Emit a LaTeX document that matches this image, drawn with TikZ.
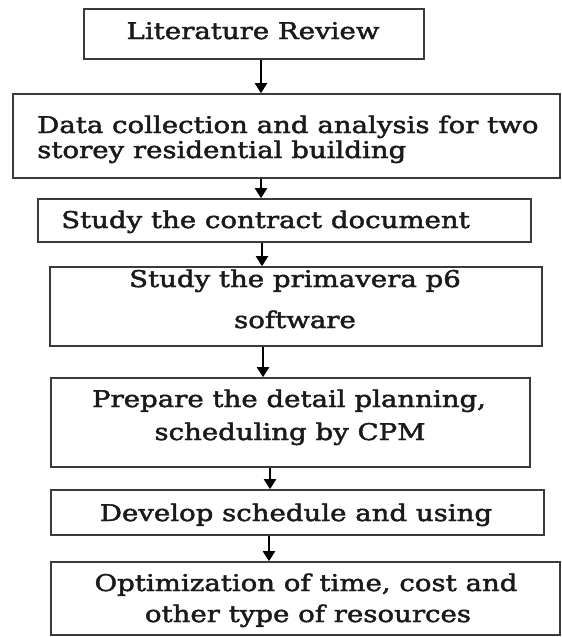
\documentclass[tikz,border=0pt]{standalone}
\usepackage{fontspec}
\setmainfont{DejaVu Serif}[FakeStretch=1.2, FakeBold=2]
\usetikzlibrary{arrows.meta}
\definecolor{boxgray}{HTML}{3A3A3A}
\definecolor{inkcol}{HTML}{1A1A1A}
\tikzset{
  box/.style={draw=boxgray, line width=1.6pt, inner sep=0pt, fill=white},
  txt/.style={inner sep=0pt, text=inkcol, font=\fontsize{23}{27}\selectfont},
  arr/.style={draw=black, line width=2pt, -{Triangle[width=12pt,length=10pt]}}
}
\begin{document}
\begin{tikzpicture}[x=1pt, y=-1pt]
\useasboundingbox (0,0) rectangle (562,637);

% process boxes
\node[box, minimum width=340pt, minimum height=50pt] (b1) at (254,34) {};
\node[box, minimum width=547pt, minimum height=84pt] (b2) at (286.5,136) {};
\node[box, minimum width=493pt, minimum height=43pt] (b3) at (284.5,220.5) {};
\node[box, minimum width=492pt, minimum height=79pt] (b4) at (296,306.5) {};
\node[box, minimum width=479pt, minimum height=89pt] (b5) at (290.5,422.5) {};
\node[box, minimum width=493pt, minimum height=45pt] (b6) at (297.5,512.5) {};
\node[box, minimum width=509pt, minimum height=73pt] (b7) at (305.5,598.5) {};

% box texts
\node[txt, anchor=base] (t1) at (253,39) {Literature Review};
\node[txt, anchor=base west] (t2a) at (37,133) {Data collection and analysis for two};
\node[txt, anchor=base west] (t2b) at (37,158) {storey residential building};
\node[txt, anchor=base west] (t3) at (61,228) {Study the contract document};
\node[txt, anchor=base] (t4a) at (295,287) {Study the primavera p6};
\node[txt, anchor=base] (t4b) at (295,328) {software};
\node[txt, anchor=base] (t5a) at (289,407) {Prepare the detail planning,};
\node[txt, anchor=base] (t5b) at (290,440) {scheduling by CPM};
\node[txt, anchor=base] (t6) at (296,521) {Develop schedule and using};
\node[txt, anchor=base] (t7a) at (306,591) {Optimization of time, cost and};
\node[txt, anchor=base] (t7b) at (308,622) {other type of resources};

% connector columns
\coordinate (c1) at (261,0);
\coordinate (c2) at (261,0);
\coordinate (c3) at (262,0);
\coordinate (c4) at (263,0);
\coordinate (c5) at (270,0);
\coordinate (c6) at (269,0);

\draw[arr] (c1 |- b1.south) -- (c1 |- b2.north);
\draw[arr] (c2 |- b2.south) -- (c2 |- b3.north);
\draw[arr] (c3 |- b3.south) -- (c3 |- b4.north);
\draw[arr] (c4 |- b4.south) -- (c4 |- b5.north);
\draw[arr] (c5 |- b5.south) -- (c5 |- b6.north);
\draw[arr] (c6 |- b6.south) -- (c6 |- b7.north);
\end{tikzpicture}
\end{document}
